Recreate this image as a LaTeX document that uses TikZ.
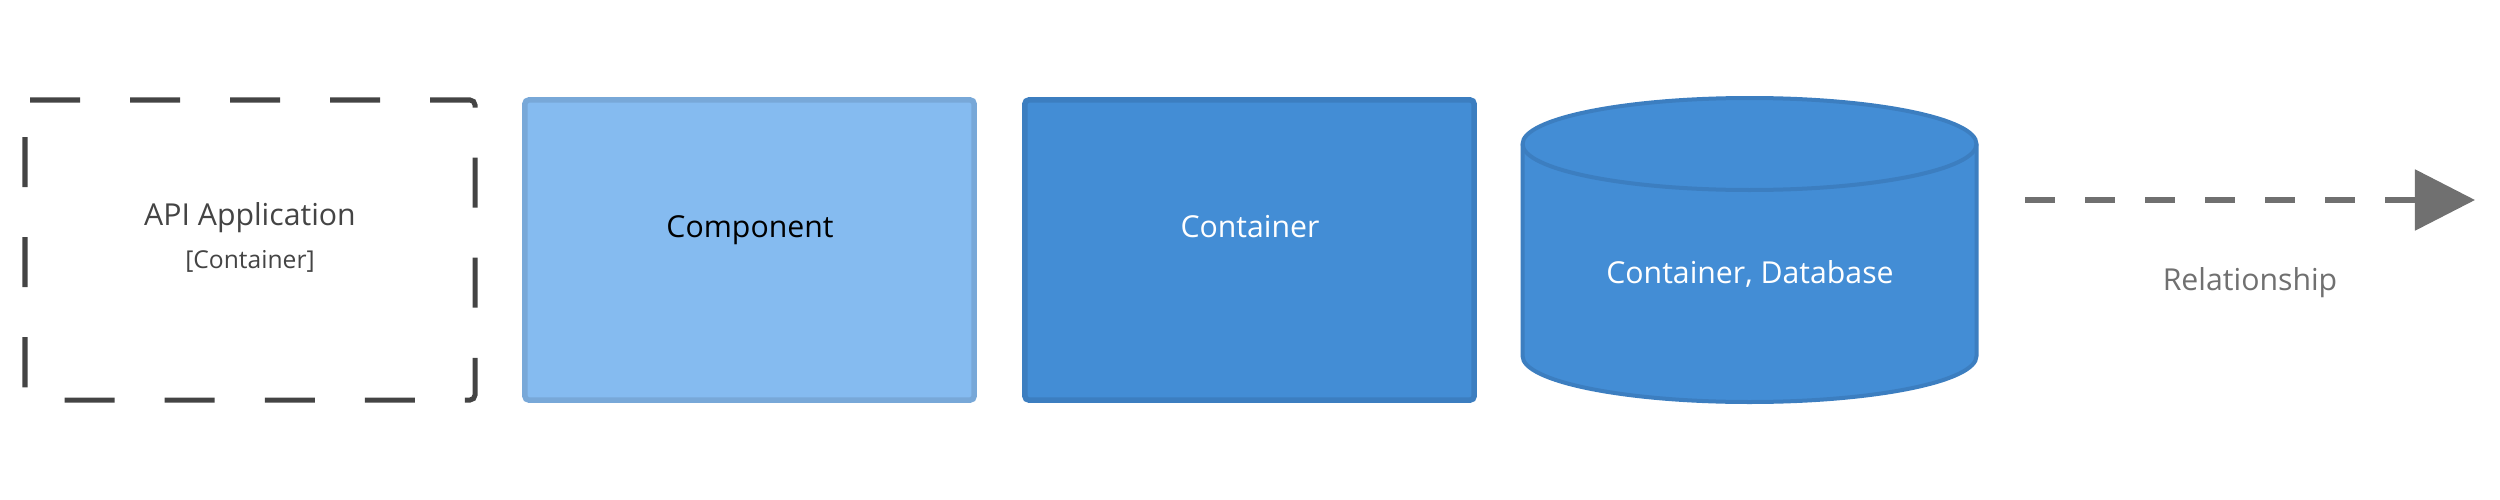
\documentclass[tikz,border=0pt]{standalone}
\usepackage{fontspec}
\setmainfont{Open Sans}
\usetikzlibrary{arrows.meta}
\definecolor{apigray}{HTML}{444444}
\definecolor{compfill}{HTML}{85BBF0}
\definecolor{compline}{HTML}{78A8D8}
\definecolor{contfill}{HTML}{438DD5}
\definecolor{contline}{HTML}{3C7EC0}
\definecolor{relgray}{HTML}{707070}
\tikzset{
  boxstyle/.style={rectangle, rounded corners=0.04cm, line width=0.055cm, minimum width=4.49cm, minimum height=3cm, inner sep=0pt},
  compbox/.style={boxstyle, draw=compline, fill=compfill},
  contbox/.style={boxstyle, draw=contline, fill=contfill},
  bigtext/.style={font=\fontsize{8.6}{10}\selectfont, anchor=base, inner sep=0pt},
  smalltext/.style={font=\fontsize{7}{8}\selectfont, anchor=base, inner sep=0pt},
  dashbox/.style={draw=apigray, line width=0.05cm, dash pattern=on 0.5cm off 0.5cm, rounded corners=0.05cm},
  dbshape/.style={fill=contfill, draw=contline, line width=0.04cm},
  relline/.style={draw=relgray, line width=0.055cm, dash pattern=on 0.3cm off 0.3cm, -{Triangle[length=0.6cm,width=0.6cm]}}
}
\begin{document}
\begin{tikzpicture}[x=0.01cm,y=0.01cm]
\useasboundingbox (0,0) rectangle (2500,-500);
% dashed API application box
\coordinate (apiTL) at (25,-100);
\coordinate (apiTR) at (475,-100);
\coordinate (apiBR) at (475,-400);
\coordinate (apiBL) at (25,-400);
\draw[dashbox] (apiTL) -- (apiTR) -- (apiBR) -- (apiBL) -- cycle;
\node[bigtext, text=apigray] (apititle) at (250,-225) {API Application};
\node[smalltext, text=apigray] (apisub) at (250,-268) {[Container]};
% component
\node[compbox] (comp) at (749.5,-250) {};
\node[bigtext, text=black] (complabel) at (750,-237) {Component};
% container
\node[contbox] (cont) at (1249.5,-250) {};
\node[bigtext, text=white] (contlabel) at (1250,-237) {Container};
% database
\path[dbshape] (1522.5,-144) -- (1522.5,-356)
  arc[start angle=180, end angle=360, x radius=227, y radius=46]
  -- (1976.5,-144)
  arc[start angle=0, end angle=180, x radius=227, y radius=46] -- cycle;
\draw[draw=contline, line width=0.04cm] (1522.5,-144)
  arc[start angle=180, end angle=360, x radius=227, y radius=46];
\node[bigtext, text=white] (dblabel) at (1750,-283) {Container, Database};
% relationship
\coordinate (relstart) at (2025,-200);
\coordinate (relend) at (2475,-200);
\draw[relline] (relstart) -- (relend);
\node[bigtext, text=relgray] (rellabel) at (2250,-290) {Relationship};
\end{tikzpicture}
\end{document}
